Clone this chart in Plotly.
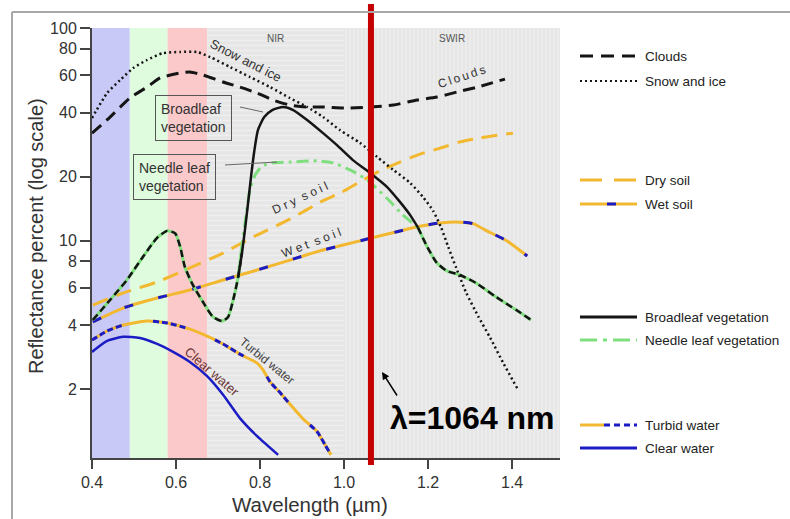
import plotly.graph_objects as go

# ---------------- data ----------------
clouds_x = [0.400, 0.443, 0.490, 0.531, 0.562, 0.610, 0.633, 0.664, 0.712, 0.752, 0.793, 0.831,
            0.871, 0.912, 0.950, 1.007, 1.062, 1.117, 1.174, 1.221, 1.269, 1.317, 1.383]
clouds_y = [32.0, 38.1, 46.8, 52.7, 58.2, 61.4, 62.1, 60.1, 55.7, 52.7, 49.4, 45.8,
            43.4, 42.5, 42.5, 42.0, 42.5, 43.4, 45.8, 47.3, 50.0, 52.7, 57.5]

snow_x = [0.400, 0.436, 0.467, 0.498, 0.531, 0.569, 0.610, 0.650, 0.681, 0.729, 0.776, 0.824,
          0.871, 0.912, 0.950, 0.990, 1.038, 1.079, 1.117, 1.157, 1.188, 1.212, 1.231, 1.248,
          1.267, 1.290, 1.319, 1.348, 1.379, 1.412]
snow_y = [37.7, 49.4, 56.9, 64.8, 70.7, 76.2, 77.1, 77.1, 73.0, 65.5, 58.8, 52.7,
          46.8, 42.5, 38.1, 33.1, 28.8, 24.7, 21.5, 18.7, 16.0, 13.8, 11.5, 9.33,
          7.43, 5.72, 4.41, 3.48, 2.65, 2.02]

broad_x = [0.402, 0.443, 0.483, 0.521, 0.555, 0.579, 0.598, 0.610, 0.621, 0.640, 0.664, 0.688,
           0.710, 0.724, 0.736, 0.748, 0.757, 0.764, 0.771, 0.779, 0.786, 0.795, 0.810, 0.829,
           0.855, 0.879, 0.912, 0.950, 0.983, 1.021, 1.062, 1.102, 1.133, 1.157, 1.176, 1.198,
           1.221, 1.245, 1.276, 1.314, 1.362, 1.410, 1.445]
broad_y = [4.23, 5.25, 6.52, 8.36, 10.3, 11.1, 10.8, 9.33, 7.51, 6.18, 5.14, 4.37,
           4.18, 4.37, 5.25, 6.74, 8.73, 11.2, 14.7, 20.3, 26.1, 33.1, 38.1, 41.1,
           42.5, 41.1, 36.9, 32.0, 28.1, 23.9, 20.8, 17.9, 15.2, 13.2, 11.5, 9.33,
           7.84, 7.19, 6.88, 6.31, 5.42, 4.71, 4.23]

needle_x = [0.402, 0.443, 0.483, 0.521, 0.555, 0.579, 0.598, 0.610, 0.621, 0.640, 0.664, 0.688,
            0.710, 0.724, 0.736, 0.748, 0.755, 0.767, 0.776, 0.788, 0.805, 0.829, 0.871, 0.936,
            0.974, 1.014, 1.055, 1.102, 1.140, 1.176, 1.198, 1.221, 1.245, 1.276, 1.314, 1.362,
            1.410, 1.445]
needle_y = [4.23, 5.25, 6.52, 8.36, 10.3, 11.1, 10.8, 9.33, 7.51, 6.18, 5.14, 4.37,
            4.18, 4.37, 5.25, 6.74, 8.83, 13.2, 17.3, 20.3, 22.4, 23.2, 23.4, 23.7,
            23.2, 21.5, 19.3, 15.8, 13.2, 11.5, 9.33, 7.84, 7.19, 6.88, 6.31, 5.42,
            4.71, 4.23]

dry_x = [0.402, 0.474, 0.555, 0.633, 0.712, 0.788, 0.871, 0.950, 0.990, 1.038, 1.086, 1.133,
         1.181, 1.229, 1.276, 1.324, 1.402]
dry_y = [4.97, 5.66, 6.38, 7.43, 8.73, 10.5, 12.6, 15.4, 16.7, 18.9, 21.3, 23.4,
         25.5, 27.2, 29.1, 30.4, 32.0]

wet_x = [0.402, 0.474, 0.555, 0.633, 0.712, 0.793, 0.871, 0.950, 0.998, 1.067, 1.126, 1.174,
         1.229, 1.276, 1.307, 1.340, 1.388, 1.436]
wet_y = [4.14, 4.81, 5.36, 5.85, 6.52, 7.26, 8.09, 9.02, 9.52, 10.3, 11.0, 11.6,
         12.1, 12.2, 12.0, 11.1, 9.95, 8.45]

turbid_x = [0.400, 0.436, 0.474, 0.531, 0.579, 0.633, 0.674, 0.712, 0.752, 0.793, 0.807, 0.824,
            0.848, 0.871, 0.902, 0.936, 0.955, 0.969]
turbid_y = [3.40, 3.75, 4.00, 4.18, 4.09, 3.83, 3.55, 3.26, 2.92, 2.65, 2.46, 2.16,
            1.92, 1.70, 1.45, 1.26, 1.09, 0.98]

clear_x = [0.400, 0.436, 0.474, 0.514, 0.555, 0.593, 0.633, 0.674, 0.712, 0.752, 0.793, 0.843]
clear_y = [2.99, 3.37, 3.52, 3.48, 3.26, 2.99, 2.68, 2.30, 1.88, 1.46, 1.20, 0.98]

x_ticks = [0.4, 0.6, 0.8, 1.0, 1.2, 1.4]
y_ticks = [2, 4, 6, 8, 10, 20, 40, 60, 80, 100]
band_edges = [0.4, 0.49, 0.58, 0.674, 1.0, 1.514]
band_labels = ["", "", "", "NIR", "SWIR"]
veg_split = [0.757, 1.176]   # where the two vegetation curves part and merge again
laser_nm = 1064

legend_names = ["Clouds", "Snow and ice", "Dry soil", "Wet soil",
                "Broadleaf vegetation", "Needle leaf vegetation", "Turbid water", "Clear water"]

# ---------------- layout helpers ----------------
FW, FH = 790, 519
L, T, R, B = 92, 28, 230, 61
PW, PH = FW - L - R, FH - T - B


def PX(px):
    return (px - L) / PW


def PY(py):
    return (T + PH - py) / PH


FONT = "Arial, Liberation Sans, sans-serif"
YEL = "#f2b830"
BLU = "#1c1cc4"
GRN = "#7fdf7f"
BLK = "#151515"
TXT = "#333333"

fig = go.Figure()
shapes = []
annos = []


def note(text, px, py, **kw):
    d = dict(xref="paper", yref="paper", x=PX(px), y=PY(py), text=text, showarrow=False,
             xanchor="center", yanchor="middle")
    d.update(kw)
    annos.append(d)


# coloured bands (visible) and hatched NIR / SWIR regions
band_fill = ["#c9c9f8", "#dffcdf", "#fbc9c9"]
for i, col in enumerate(band_fill):
    shapes.append(dict(type="rect", xref="x", yref="paper", x0=band_edges[i], x1=band_edges[i + 1],
                       y0=0, y1=1, fillcolor=col, line=dict(width=0), layer="below"))
for i, pat, size, lab_px in [(3, "-", 5, 275), (4, "|", 4, 452)]:
    x0, x1 = band_edges[i], band_edges[i + 1]
    fig.add_trace(go.Scatter(x=[x0, x1, x1, x0, x0], y=[0.5, 0.5, 200, 200, 0.5], mode="lines",
                             fill="toself", line=dict(width=0, color="rgba(0,0,0,0)"),
                             fillpattern=dict(shape=pat, size=size, solidity=0.3,
                                              fgcolor="#f8f8f8", bgcolor="#e6e6e6"),
                             hoverinfo="skip", showlegend=False))
    note(band_labels[i], lab_px, 39, font=dict(family=FONT, size=10, color="#555"))


def part(xs, ys, lo, hi):
    px = [a for a in xs if lo <= a <= hi]
    py = [b for a, b in zip(xs, ys) if lo <= a <= hi]
    return px, py


def line(xs, ys, color, width, dash="solid", smooth=0.6):
    fig.add_trace(go.Scatter(x=xs, y=ys, mode="lines",
                             line=dict(color=color, width=width, dash=dash, shape="spline", smoothing=smooth),
                             hoverinfo="skip", showlegend=False))


# water
line(clear_x, clear_y, BLU, 2.5)
line(turbid_x, turbid_y, YEL, 3)
line(turbid_x, turbid_y, BLU, 3, "6px,3px,6px,3px,6px,3px,6px,32px")
# soils
line(wet_x, wet_y, YEL, 3)
line(wet_x, wet_y, BLU, 3, "9px,26px")
line(dry_x, dry_y, YEL, 3, "16px,9px")
# vegetation: shared parts green under black dashes, separate parts own styles
lo, hi = veg_split
for a, b in [(0, lo), (hi, 2)]:
    xs, ys = part(needle_x, needle_y, a, b)
    line(xs, ys, GRN, 3)
xs, ys = part(needle_x, needle_y, 0.748, hi)
line(xs, ys, GRN, 3, "12px,5px,3px,5px")
for a, b in [(0, lo), (hi, 2)]:
    xs, ys = part(broad_x, broad_y, a, b)
    line(xs, ys, BLK, 2.5, "7px,4px")
xs, ys = part(broad_x, broad_y, 0.748, hi)
line(xs, ys, BLK, 2.5)
# snow and clouds
line(snow_x, snow_y, BLK, 2.5, "2px,3px")
line(clouds_x, clouds_y, BLK, 3, "12px,7px")

# curve labels
lab = [("Snow and ice", 246, 60, 27, TXT, 13),
       ("C\u2009l\u2009o\u2009u\u2009d\u2009s", 461, 77, -18, TXT, 12),
       ("D r y  s o i l", 300, 198, -25, TXT, 12),
       ("W e t  s o i l", 311, 243, -21, TXT, 12),
       ("Turbid water", 267, 361, 39, "#444", 12),
       ("Clear water", 212, 371, 41, "#6a3636", 13)]
for text, px, py, ang, col, sz in lab:
    note(text, px, py, textangle=ang, font=dict(family=FONT, size=sz, color=col))

# boxed vegetation labels with leader lines
for text, px, py in [("Broadleaf<br>vegetation", 193, 118), ("Needle leaf<br>vegetation", 174, 177)]:
    note(text, px, py, align="left", bordercolor="#555", borderwidth=1, borderpad=5,
         font=dict(family=FONT, size=14, color=TXT))
for (x0, y0, x1, y1) in [(240, 107, 263, 112), (225, 165, 277, 162)]:
    shapes.append(dict(type="line", xref="paper", yref="paper", x0=PX(x0), y0=PY(y0), x1=PX(x1), y1=PY(y1),
                       line=dict(color="#666", width=1)))

# laser line, arrow and label
laser_um = laser_nm / 1000
shapes.append(dict(type="line", xref="x", yref="paper", x0=laser_um, x1=laser_um, y0=PY(465), y1=PY(4),
                   line=dict(color="#c40000", width=6), layer="above"))
annos.append(dict(xref="paper", yref="paper", x=PX(382), y=PY(372), ax=16, ay=25, text="",
                  showarrow=True, arrowhead=2, arrowsize=1, arrowwidth=1.5, arrowcolor="black"))
note(f"<b>λ={laser_nm} nm</b>", 472, 418, font=dict(family=FONT, size=32, color="black"))

# axis titles (placed like the reference)
note("Wavelength (µm)", 310, 504, font=dict(family=FONT, size=20.5, color=TXT))
note("Reflectance percent (log scale)", 36, 236, textangle=-90, font=dict(family=FONT, size=20, color=TXT))

# image frame
shapes.append(dict(type="line", xref="paper", yref="paper", x0=PX(12), y0=PY(12), x1=PX(795), y1=PY(12),
                   line=dict(color="#a8a8a8", width=2)))
shapes.append(dict(type="line", xref="paper", yref="paper", x0=PX(12), y0=PY(12), x1=PX(12), y1=PY(525),
                   line=dict(color="#a8a8a8", width=2)))

# hand-made legend
leg_py = [56, 81, 180, 204, 317, 340, 425, 448]
styles = [[(BLK, 3, "13px,8px", 580, 637)],
          [(BLK, 2, "2px,3px", 580, 637)],
          [(YEL, 3, "22px,12px", 580, 637)],
          [(YEL, 3, "solid", 580, 637), (BLU, 3, "solid", 607, 616)],
          [(BLK, 3, "solid", 580, 637)],
          [(GRN, 3, "17px,6px,4px,6px", 580, 637)],
          [(YEL, 3, "solid", 580, 604), (BLU, 3, "6px,4px", 604, 637)],
          [(BLU, 3, "solid", 580, 637)]]
for name, py, st in zip(legend_names, leg_py, styles):
    for col, w, dash, a, b in st:
        shapes.append(dict(type="line", xref="paper", yref="paper", x0=PX(a), x1=PX(b), y0=PY(py), y1=PY(py),
                           line=dict(color=col, width=w, dash=dash)))
    note(name, 643, py, xanchor="left", font=dict(family=FONT, size=13.5, color="#222"))

fig.update_layout(
    width=FW, height=FH, autosize=False,
    margin=dict(l=L, r=R, t=T, b=B, autoexpand=False),
    paper_bgcolor="white", plot_bgcolor="white",
    showlegend=False,
    shapes=shapes, annotations=annos,
    font=dict(family=FONT, color=TXT),
    xaxis=dict(range=[band_edges[0], band_edges[-1]], tickvals=x_ticks, automargin=False,
               ticktext=[f"{v:.1f}" for v in x_ticks], ticks="outside", ticklen=9, tickwidth=1.5,
               tickcolor="#444", showline=True, linecolor="#444", linewidth=2, showgrid=False,
               zeroline=False, tickfont=dict(size=16, color=TXT)),
    yaxis=dict(type="log", range=[-0.0235, 2.0], tickvals=y_ticks, ticktext=[str(v) for v in y_ticks],
               automargin=False,
               ticks="outside", ticklen=10, tickwidth=1.5, tickcolor="#444", showline=True,
               linecolor="#444", linewidth=2, showgrid=False, zeroline=False,
               tickfont=dict(size=16, color=TXT)),
)

fig.write_html("out.html", config={"displayModeBar": False},
               post_script="document.body.style.margin='0';")
